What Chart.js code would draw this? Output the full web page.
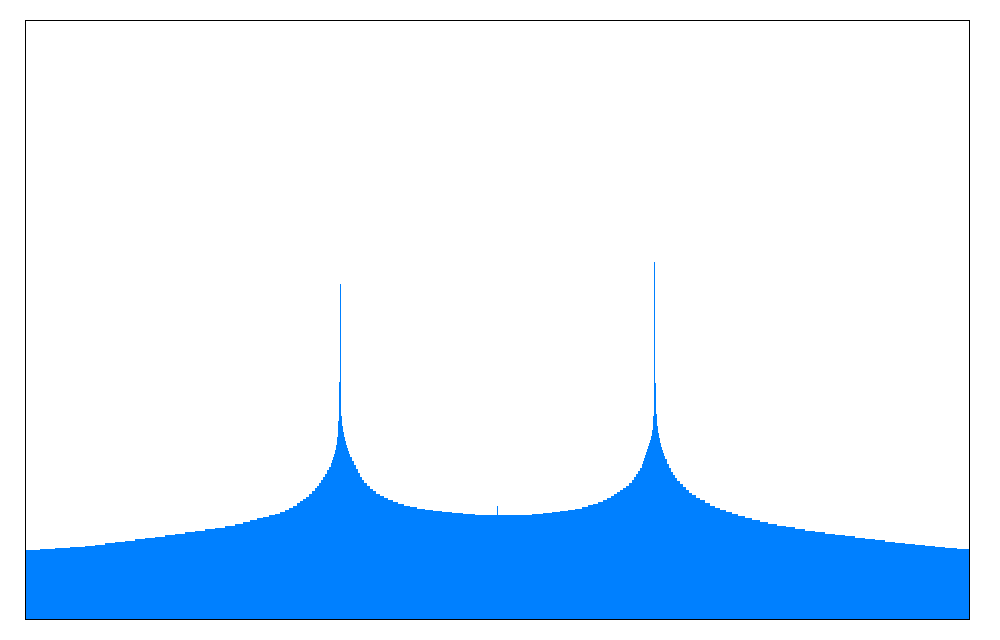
<!DOCTYPE html>
<html>
<head>
<meta charset="utf-8">
<script src="https://cdn.jsdelivr.net/npm/chart.js@4"></script>
<style>
  html, body { margin: 0; padding: 0; background: #fff; }
  #wrap { width: 1000px; height: 640px; }
</style>
</head>
<body>
<div id="wrap"><canvas id="chart" width="1000" height="640"></canvas></div>
<script>
// left edge of each bin (bin index) and the bin height; each value holds until the next bin
const binStart = [
  0, 15, 30, 45, 60, 70, 80, 90, 100, 110, 120, 130, 140, 150, 160, 170, 180, 190, 200, 210,
  218, 225, 232, 238, 244, 250, 255, 260, 264, 268, 272, 275, 278, 281, 284, 287, 290, 292, 294, 296,
  298, 300, 302, 304, 306, 307, 308, 309, 310, 311, 312, 313, 314, 315,
  316, 317, 318, 319, 320, 321, 322, 323, 324, 325, 327, 329, 331, 333, 335, 337, 339, 342, 345, 348,
  351, 355, 359, 363, 368, 373, 379, 385, 392, 400, 408, 417, 427, 438, 450, 472, 473, 495,
  507, 518, 527, 535, 543, 550, 557, 563, 568, 573, 578, 582, 586, 589, 592, 595, 598, 601, 604, 607,
  609, 611, 613, 615, 617, 618, 619, 620, 621, 622, 623, 624, 625, 626, 627, 628, 629,
  630, 631, 632, 633, 634, 635, 636, 637, 638, 639, 640, 642, 644, 646, 648, 650, 652, 655, 658, 661,
  664, 667, 671, 675, 680, 685, 690, 695, 701, 707, 713, 720, 727, 735, 743, 752, 761, 770, 780, 790,
  800, 810, 820, 830, 840, 850, 860, 870, 880, 890, 900, 910, 920, 932, 944
];
const heights = [
  69, 70, 71, 72, 73, 74, 76, 77, 78, 80, 81, 82, 84, 85, 87, 88, 90, 91, 93, 95,
  97, 99, 101, 102, 104, 105, 107, 109, 111, 113, 116, 118, 120, 122, 125, 128, 131, 133, 136, 139,
  142, 145, 149, 152, 156, 159, 162, 165, 169, 174, 182, 198, 237, 335,
  203, 193, 187, 182, 178, 174, 171, 168, 165, 162, 158, 154, 150, 146, 142, 139, 136, 133, 130, 128,
  125, 123, 121, 119, 117, 115, 113, 112, 110, 109, 108, 107, 106, 105, 104, 113, 104, 104,
  105, 106, 107, 108, 109, 110, 112, 114, 115, 117, 119, 121, 123, 125, 127, 129, 131, 133, 136, 139,
  142, 145, 148, 151, 155, 158, 161, 164, 167, 170, 173, 176, 179, 183, 189, 203, 357,
  236, 205, 193, 186, 181, 176, 172, 169, 166, 163, 160, 155, 151, 147, 144, 141, 138, 135, 132, 129,
  126, 124, 121, 119, 116, 113, 111, 109, 107, 105, 103, 101, 99, 97, 95, 93, 92, 90, 88, 87,
  85, 84, 83, 81, 80, 79, 77, 76, 75, 74, 73, 72, 71, 70, 69
];

const points = binStart.map((x, i) => ({ x, y: heights[i] }));

const frame = {
  id: 'frame',
  afterDatasetsDraw(chart) {
    const { ctx, chartArea: a } = chart;
    ctx.save();
    ctx.strokeStyle = '#000';
    ctx.lineWidth = 1;
    ctx.strokeRect(a.left + 0.5, a.top + 0.5, a.right - a.left, a.bottom - a.top);
    ctx.restore();
  }
};

new Chart(document.getElementById('chart').getContext('2d'), {
  type: 'line',
  data: {
    datasets: [{
      data: points,
      stepped: true,
      fill: 'origin',
      backgroundColor: '#0080ff',
      borderColor: 'rgba(0,0,0,0)',
      borderWidth: 0,
      pointRadius: 0,
      tension: 0
    }]
  },
  options: {
    responsive: false,
    animation: false,
    layout: { padding: { left: 25, top: 20, right: 31, bottom: 21 } },
    plugins: { legend: { display: false }, tooltip: { enabled: false } },
    scales: {
      x: { type: 'linear', min: 0, max: 944, display: false },
      y: { min: 0, max: 599, display: false }
    }
  },
  plugins: [frame]
});
</script>
</body>
</html>
